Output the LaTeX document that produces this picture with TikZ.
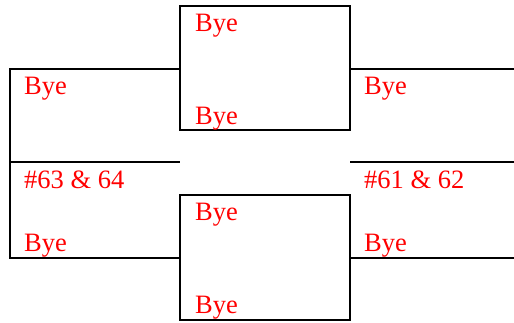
\documentclass[tikz,border=0pt]{standalone}
\usepackage{fontspec}
\setmainfont{Liberation Serif}
\begin{document}
\begin{tikzpicture}[x=1pt,y=-1pt,
  line/.style={line width=2pt,line cap=rect},
  freeline/.style={line width=2pt},
  box/.style={draw,line width=2pt,rectangle,inner sep=0pt},
  lbl/.style={anchor=base west,inner sep=0pt,text=red,font=\fontsize{26.5}{30}\selectfont}]
\useasboundingbox (0,0) rectangle (514,322);
% boxes
\node[box,minimum width=170pt,minimum height=124pt] (topbox) at (265,68) {};
\node[box,minimum width=170pt,minimum height=125pt] (botbox) at (265,257.5) {};
% left bracket
\coordinate (l1) at (10,69);
\coordinate (l2) at (10,162);
\coordinate (l3) at (10,258);
\coordinate (lm) at (180,162);
\draw[line] (topbox.west |- l1) -- (l1) -- (l3) -- (botbox.west |- l3);
\draw[freeline] (l2) -- (lm);
% right lines
\coordinate (r1) at (514,69);
\coordinate (r2) at (514,162);
\coordinate (r3) at (514,258);
\coordinate (rm) at (350,162);
\draw[freeline] (topbox.east |- r1) -- (r1);
\draw[freeline] (rm) -- (r2);
\draw[freeline] (botbox.east |- r3) -- (r3);
% labels
\node[lbl] (t1) at (195,31) {Bye};
\node[lbl] (t2) at (195,124) {Bye};
\node[lbl] (b1) at (195,220) {Bye};
\node[lbl] (b2) at (195,313) {Bye};
\node[lbl] (lb1) at (24,94) {Bye};
\node[lbl] (lb2) at (24,188) {\#63 \& 64};
\node[lbl] (lb3) at (24,251) {Bye};
\node[lbl] (rb1) at (364,94) {Bye};
\node[lbl] (rb2) at (364,188) {\#61 \& 62};
\node[lbl] (rb3) at (364,251) {Bye};
\end{tikzpicture}
\end{document}
